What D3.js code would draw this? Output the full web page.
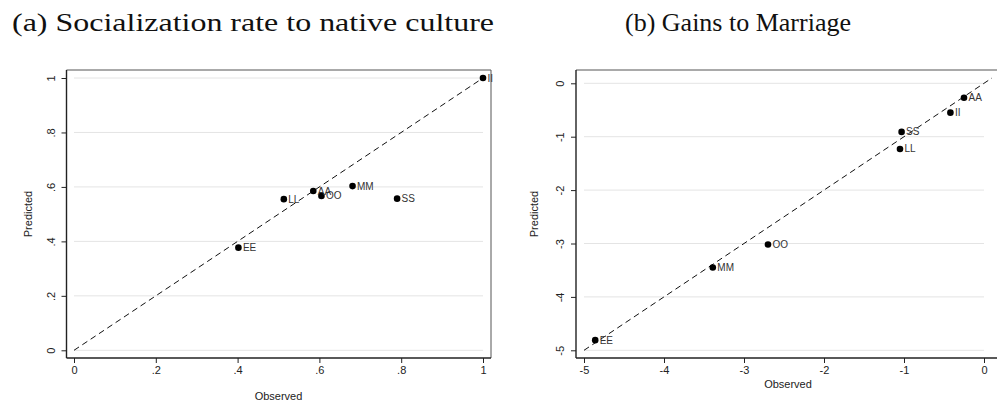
<!DOCTYPE html>
<html>
<head>
<meta charset="utf-8">
<script src="https://cdn.jsdelivr.net/npm/d3@7"></script>
<style>
    body { margin: 0; background: #fff; }
    svg { display: block; }
    .sans { font-family: "Liberation Sans", Arimo, Arial, Helvetica, "DejaVu Sans", "Noto Sans", sans-serif; }
</style>
</head>
<body>
<svg id="grafico" width="997" height="402"></svg>
<script>

// country codes, same order in both panels
const codigos = ["AA", "EE", "II", "LL", "MM", "OO", "SS"];

// panel (a) socialization rate
const socObservado = [0.585, 0.402, 1.000, 0.513, 0.681, 0.605, 0.790];
const socPredicho  = [0.585, 0.377, 1.000, 0.555, 0.603, 0.567, 0.557];
const socTicks = [0, 0.2, 0.4, 0.6, 0.8, 1];
const socTickLabels = ["0", ".2", ".4", ".6", ".8", "1"];

// panel (b) gains to marriage
const ganObservado = [-0.25, -4.86, -0.42, -1.05, -3.39, -2.70, -1.03];
const ganPredicho  = [-0.27, -4.81, -0.55, -1.23, -3.45, -3.02, -0.91];
const ganTicks = [-5, -4, -3, -2, -1, 0];
const ganTickLabels = ["-5", "-4", "-3", "-2", "-1", "0"];

const svg = d3.select("#grafico");

dibujarPanel({
    titulo: "(a) Socialization rate to native culture",
    tituloX: 12, tituloLargo: 482,
    caja: { left: 66.5, right: 491, top: 70, bottom: 358 },
    xDom: [0, 1], xRange: [74, 483],
    yDom: [0, 1], yRange: [350.3, 78],
    lineaFin: 1,
    ticks: socTicks, tickLabels: socTickLabels,
    obs: socObservado, pred: socPredicho,
    yTickX: 51, yTituloX: 28, xTituloY: 400
});

dibujarPanel({
    titulo: "(b) Gains to Marriage",
    tituloX: 625, tituloLargo: 226,
    caja: { left: 576, right: 1003, top: 70, bottom: 358 },
    xDom: [-5, 0], xRange: [584, 984],
    yDom: [-5, 0], yRange: [350.3, 83.3],
    lineaFin: 0.1,
    ticks: ganTicks, tickLabels: ganTickLabels,
    obs: ganObservado, pred: ganPredicho,
    yTickX: 560, yTituloX: 534, xTituloY: 388
});

function dibujarPanel(p) {

    const g = svg.append("g");

    const x = d3.scaleLinear().domain(p.xDom).range(p.xRange);
    const y = d3.scaleLinear().domain(p.yDom).range(p.yRange);

    // title (LaTeX caption look)
    g.append("text")
        .attr("x", p.tituloX)
        .attr("y", 31)
        .attr("textLength", p.tituloLargo)
        .attr("lengthAdjust", "spacingAndGlyphs")
        .style("font-family", "'Liberation Serif', serif")
        .style("font-size", "26px")
        .style("fill", "#111")
        .text(p.titulo);

    // gridlines
    g.selectAll(".grid")
        .data(p.ticks)
        .enter()
        .append("line")
        .attr("x1", x(p.xDom[0]))
        .attr("x2", x(p.xDom[1]))
        .attr("y1", d => y(d))
        .attr("y2", d => y(d))
        .attr("stroke", "#e4e4e4")
        .attr("stroke-width", 1);

    // frame
    const c = p.caja;
    g.append("line")
        .attr("x1", c.left).attr("x2", c.right)
        .attr("y1", c.top).attr("y2", c.top)
        .attr("stroke", "#555").attr("stroke-width", 1);
    g.append("line")
        .attr("x1", c.right).attr("x2", c.right)
        .attr("y1", c.top).attr("y2", c.bottom)
        .attr("stroke", "#555").attr("stroke-width", 1);

    // axes
    const ejeX = g.append("g")
        .attr("transform", `translate(0,${c.bottom})`)
        .call(d3.axisBottom(x)
            .tickValues(p.ticks)
            .tickFormat((d, i) => p.tickLabels[i])
            .tickSize(5)
            .tickSizeOuter(0));

    const ejeY = g.append("g")
        .attr("transform", `translate(${c.left},0)`)
        .call(d3.axisLeft(y)
            .tickValues(p.ticks)
            .tickFormat((d, i) => p.tickLabels[i])
            .tickSize(5)
            .tickSizeOuter(0));

    [ejeX, ejeY].forEach(eje => {
        eje.attr("font-family", null).attr("font-size", null);
        eje.select(".domain").remove();
        eje.selectAll(".tick line").attr("stroke", "#222");
        eje.selectAll("text")
            .attr("class", "sans")
            .style("font-size", "11px")
            .style("fill", "#222");
    });

    ejeX.selectAll("text").attr("y", 8);

    ejeY.selectAll(".tick text")
        .attr("x", null)
        .attr("dy", null)
        .attr("transform", `translate(${p.yTickX - c.left},0) rotate(-90)`)
        .attr("text-anchor", "middle")
        .attr("dominant-baseline", "central");

    g.append("line")
        .attr("x1", c.left).attr("x2", c.right)
        .attr("y1", c.bottom).attr("y2", c.bottom)
        .attr("stroke", "#222").attr("stroke-width", 1.4);
    g.append("line")
        .attr("x1", c.left).attr("x2", c.left)
        .attr("y1", c.top).attr("y2", c.bottom)
        .attr("stroke", "#222").attr("stroke-width", 1.4);

    // axis titles
    g.append("text")
        .attr("class", "sans")
        .attr("x", (x(p.xDom[0]) + x(p.lineaFin)) / 2)
        .attr("y", p.xTituloY)
        .attr("text-anchor", "middle")
        .style("font-size", "11px")
        .style("fill", "#222")
        .text("Observed");

    g.append("text")
        .attr("class", "sans")
        .attr("transform", `translate(${p.yTituloX},${(c.top + c.bottom) / 2}) rotate(-90)`)
        .attr("text-anchor", "middle")
        .attr("dominant-baseline", "central")
        .style("font-size", "11px")
        .style("fill", "#222")
        .text("Predicted");

    // 45 degree line
    g.append("line")
        .attr("x1", x(p.xDom[0]))
        .attr("y1", y(p.yDom[0]))
        .attr("x2", x(p.lineaFin))
        .attr("y2", y(p.lineaFin))
        .attr("stroke", "#111")
        .attr("stroke-width", 1)
        .attr("stroke-dasharray", "6,4");

    // points and labels
    const puntos = codigos.map((cod, i) => ({ cod: cod, obs: p.obs[i], pred: p.pred[i] }));

    g.selectAll(".punto")
        .data(puntos)
        .enter()
        .append("circle")
        .attr("cx", d => x(d.obs))
        .attr("cy", d => y(d.pred))
        .attr("r", 3.3)
        .attr("fill", "#000");

    g.selectAll(".etiqueta")
        .data(puntos)
        .enter()
        .append("text")
        .attr("class", "sans")
        .attr("x", d => x(d.obs) + 4.5)
        .attr("y", d => y(d.pred))
        .attr("dominant-baseline", "central")
        .style("font-size", "10px")
        .style("fill", "#333")
        .text(d => d.cod);
}

</script>
</body>
</html>
